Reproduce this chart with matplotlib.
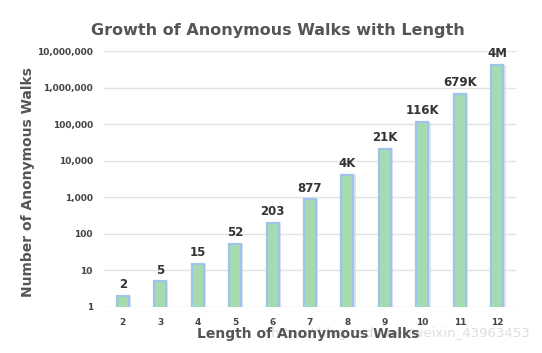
import matplotlib.pyplot as plt
import numpy as np

lengths = ["2", "3", "4", "5", "6", "7", "8", "9", "10", "11", "12"]
walks = [2, 5, 15, 52, 203, 877, 4140, 21147, 115975, 678570, 4213597]
bar_labels = ["2", "5", "15", "52", "203", "877", "4K", "21K", "116K", "679K", "4M"]
y_ticks = [1, 10, 100, 1000, 10000, 100000, 1000000, 10000000]

fig = plt.figure(figsize=(5.42, 3.53), dpi=100)
ax = fig.add_axes([104 / 542, 1 - 307 / 353, 412 / 542, 256 / 353])

x = np.arange(len(lengths))
# soft shadow behind bars
ax.bar(x + 0.04, walks, width=0.36, color="#c9d3dd", alpha=0.6, zorder=2)
ax.bar(x, walks, width=0.32, color="#a6dbb0", edgecolor="#9fc4ea", linewidth=1.6, zorder=3)

for xi, v, lab in zip(x, walks, bar_labels):
    ax.text(xi, v * 1.35, lab, ha="center", va="bottom", fontsize=8.5,
            fontweight="bold", color="#333333")

ax.set_yscale("log")
ax.set_ylim(1, 10000000)
ax.set_xlim(-0.5, len(lengths) - 0.5)
ax.set_yticks(y_ticks)
ax.set_yticklabels([f"{t:,}" for t in y_ticks])
ax.minorticks_off()
ax.set_xticks(x)
ax.set_xticklabels(lengths)
ax.tick_params(length=0, labelsize=6.5, labelcolor="#444444", pad=8)
for lab in ax.get_xticklabels() + ax.get_yticklabels():
    lab.set_fontweight("bold")

ax.grid(axis="y", color="#e3e3e3", linewidth=1, zorder=0)
for s in ax.spines.values():
    s.set_visible(False)

fig.suptitle("Growth of Anonymous Walks with Length", x=278 / 542, y=1 - 30 / 353,
             va="center", fontsize=11.5, fontweight="bold", color="#555555")
fig.text(28 / 542, 1 - 182 / 353, "Number of Anonymous Walks", rotation=90,
         ha="center", va="center", fontsize=10, fontweight="bold", color="#555555")
fig.text(308 / 542, 1 - 334 / 353, "Length of Anonymous Walks", ha="center",
         va="center", fontsize=10, fontweight="bold", color="#555555", zorder=5)
fig.text(530 / 542, 1 - 334 / 353, "https://blog.csdn.net/weixin_43963453", ha="right",
         va="center", fontsize=9.5, color="#d0d0d0", alpha=0.7, zorder=1)

fig.savefig("out.png", dpi=100)
